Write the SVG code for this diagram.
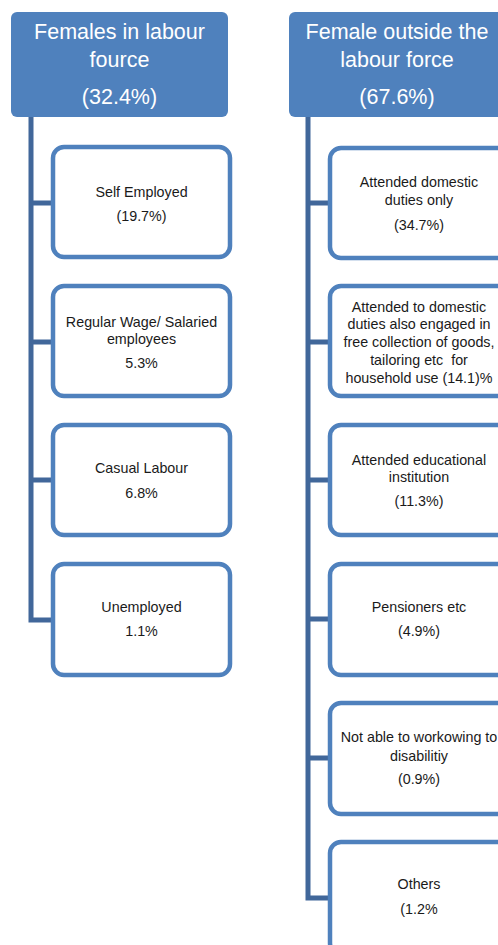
<svg xmlns="http://www.w3.org/2000/svg" width="498" height="945" viewBox="0 0 498 945">
<style>
.hdr{fill:#4f81bd;}
.htx{fill:#ffffff;font-family:"Liberation Sans",Arial,sans-serif;font-size:21.5px;text-anchor:middle;}
.box{fill:#ffffff;stroke:#4f81bd;stroke-width:4.5;}
.btx{fill:#1a1a1a;font-family:"Liberation Sans",Arial,sans-serif;font-size:14.3px;text-anchor:middle;white-space:pre;}
.con{fill:none;stroke:#41679a;stroke-width:5;stroke-linejoin:miter;}
</style>
<rect width="498" height="945" fill="#ffffff"/>
<g id="connectors">
<path class="con" d="M31 117 V620 H53 M31 203 H53 M31 342 H53 M31 480 H53"/>
<path class="con" d="M308 117 V898 H330 M308 203 H330 M308 342 H330 M308 480 H330 M308 619 H330 M308 758 H330"/>
</g>
<g id="hdr-left">
<rect class="hdr" x="11" y="12" width="217" height="105" rx="6"/>
<text class="htx" x="119.5" y="39">Females in labour</text>
<text class="htx" x="119.5" y="67">fource</text>
<text class="htx" x="119.5" y="104">(32.4%)</text>
</g>
<g id="hdr-right">
<rect class="hdr" x="289" y="12" width="217" height="105" rx="6"/>
<text class="htx" x="397" y="39">Female outside the</text>
<text class="htx" x="397" y="67">labour force</text>
<text class="htx" x="397" y="104">(67.6%)</text>
</g>
<g id="self-employed">
<rect class="box" x="53" y="147" width="177" height="110" rx="11"/>
<text class="btx" x="141.5" y="197">Self Employed</text>
<text class="btx" x="141.5" y="221">(19.7%)</text>
</g>
<g id="regular-wage">
<rect class="box" x="53" y="286" width="177" height="110" rx="11"/>
<text class="btx" x="141.5" y="327">Regular Wage/ Salaried</text>
<text class="btx" x="141.5" y="344">employees</text>
<text class="btx" x="141.5" y="368">5.3%</text>
</g>
<g id="casual-labour">
<rect class="box" x="53" y="425" width="177" height="110" rx="11"/>
<text class="btx" x="141.5" y="473">Casual Labour</text>
<text class="btx" x="141.5" y="498">6.8%</text>
</g>
<g id="unemployed">
<rect class="box" x="53" y="564" width="177" height="111" rx="11"/>
<text class="btx" x="141.5" y="612">Unemployed</text>
<text class="btx" x="141.5" y="636">1.1%</text>
</g>
<g id="domestic-only">
<rect class="box" x="330" y="148" width="178" height="110" rx="11"/>
<text class="btx" x="419" y="187">Attended domestic</text>
<text class="btx" x="419" y="205">duties only</text>
<text class="btx" x="419" y="230">(34.7%)</text>
</g>
<g id="domestic-collection">
<rect class="box" x="330" y="286" width="178" height="110" rx="11"/>
<text class="btx" x="419" y="312">Attended to domestic</text>
<text class="btx" x="419" y="329">duties also engaged in</text>
<text class="btx" x="419" y="347">free collection of goods,</text>
<text class="btx" x="419" y="365">tailoring etc  for</text>
<text class="btx" x="419" y="383">household use (14.1)%</text>
</g>
<g id="educational">
<rect class="box" x="330" y="425" width="178" height="110" rx="11"/>
<text class="btx" x="419" y="465">Attended educational</text>
<text class="btx" x="419" y="482">institution</text>
<text class="btx" x="419" y="506">(11.3%)</text>
</g>
<g id="pensioners">
<rect class="box" x="330" y="564" width="178" height="111" rx="11"/>
<text class="btx" x="419" y="612">Pensioners etc</text>
<text class="btx" x="419" y="636">(4.9%)</text>
</g>
<g id="disability">
<rect class="box" x="330" y="703" width="178" height="111" rx="11"/>
<text class="btx" x="419" y="742">Not able to workowing to</text>
<text class="btx" x="419" y="761">disabilitiy</text>
<text class="btx" x="419" y="784">(0.9%)</text>
</g>
<g id="others">
<rect class="box" x="330" y="842" width="178" height="112" rx="11"/>
<text class="btx" x="419" y="889">Others</text>
<text class="btx" x="419" y="914">(1.2%</text>
</g>
</svg>
